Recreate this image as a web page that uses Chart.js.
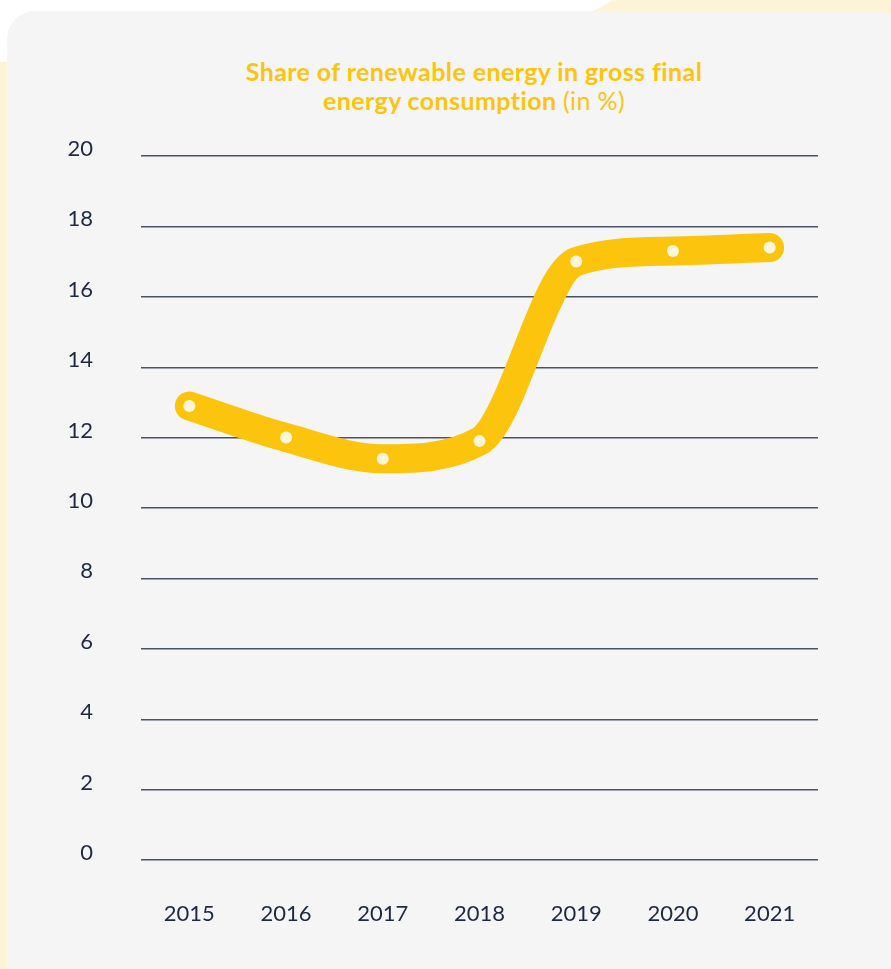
<!DOCTYPE html>
<html>
<head>
<meta charset="utf-8">
<script src="https://cdn.jsdelivr.net/npm/chart.js@4/dist/chart.umd.min.js"></script>
<style>
    html, body { margin: 0; padding: 0; background: #ffffff; }
    body { width: 891px; height: 969px; position: relative; overflow: hidden; font-family: Lato, sans-serif; }
    #cream {
        position: absolute; left: 0; top: 0; width: 891px; height: 969px;
        background: #fdf3d7;
        clip-path: polygon(0 62px, 560px 30px, 613px 0, 891px 0, 891px 969px, 0 969px);
    }
    #card {
        position: absolute; left: 7px; top: 11px; width: 900px; height: 1000px;
        background: #f5f5f5;
        border-radius: 28px 28px 18px 18px;
    }
    #title {
        position: absolute; left: 174px; top: 57px; width: 600px;
        text-align: center; color: #fcc40d;
        font: 700 25px/29px Lato, sans-serif;
        letter-spacing: 0.4px;
        font-variant-ligatures: none;
    }
    #title span { font-weight: 400; }
    #wrap { position: absolute; left: 0; top: 0; width: 891px; height: 969px; }
</style>
</head>
<body>
<div id="cream"></div>
<div id="card"></div>
<div id="title">Share of renewable energy in gross final<br>energy consumption <span>(in %)</span></div>
<div id="wrap"><canvas id="share-chart"></canvas></div>
<script>
/**
 * Data
 */
const years = ["2015", "2016", "2017", "2018", "2019", "2020", "2021"];
const shareValues = [12.9, 12.0, 11.4, 11.9, 17.0, 17.3, 17.4];
const yTicks = [0, 2, 4, 6, 8, 10, 12, 14, 16, 18, 20];

const lineYellow = "#fcc40d";
const dotCream = "#fdf5d8";
const textNavy = "#1e2940";
const gridSlate = "#4a5265";

/**
 * Graph
 */
const shareChart = initGraph();

function initGraph() {
    const ctx = document.getElementById("share-chart");

    return new Chart(ctx, {
        type: "line",
        data: {
            labels: years,
            datasets: [
                {
                    // thick smooth band, drawn underneath
                    data: shareValues,
                    order: 2,
                    borderColor: lineYellow,
                    borderWidth: 29,
                    borderCapStyle: "round",
                    borderJoinStyle: "round",
                    cubicInterpolationMode: "monotone",
                    pointRadius: 0,
                    fill: false,
                    clip: false
                },
                {
                    // cream dots on top
                    data: shareValues,
                    order: 1,
                    showLine: false,
                    pointRadius: 6,
                    pointBorderWidth: 0,
                    pointBackgroundColor: dotCream,
                    clip: false
                }
            ]
        },
        options: {
            animation: false,
            responsive: true,
            maintainAspectRatio: false,
            layout: {
                padding: { left: 0, right: 73, top: 156, bottom: 0 }
            },
            scales: {
                x: {
                    offset: true,
                    grid: { display: false, drawTicks: false },
                    border: { display: false },
                    ticks: {
                        padding: 41,
                        color: textNavy,
                        font: { family: "Lato", size: 22 }
                    },
                    afterFit: function(scale) {
                        scale.height = 109;
                    }
                },
                y: {
                    min: 0,
                    max: 20,
                    afterBuildTicks: function(scale) {
                        scale.ticks = yTicks.map(v => ({ value: v }));
                    },
                    grid: {
                        color: gridSlate,
                        lineWidth: 1.4,
                        drawTicks: false
                    },
                    border: { display: false },
                    ticks: {
                        padding: 48,
                        labelOffset: -7,
                        color: textNavy,
                        font: { family: "Lato", size: 22 }
                    },
                    afterFit: function(scale) {
                        scale.width = 141;
                    }
                }
            },
            plugins: {
                legend: { display: false },
                tooltip: { enabled: false }
            }
        }
    });
}
</script>
</body>
</html>
